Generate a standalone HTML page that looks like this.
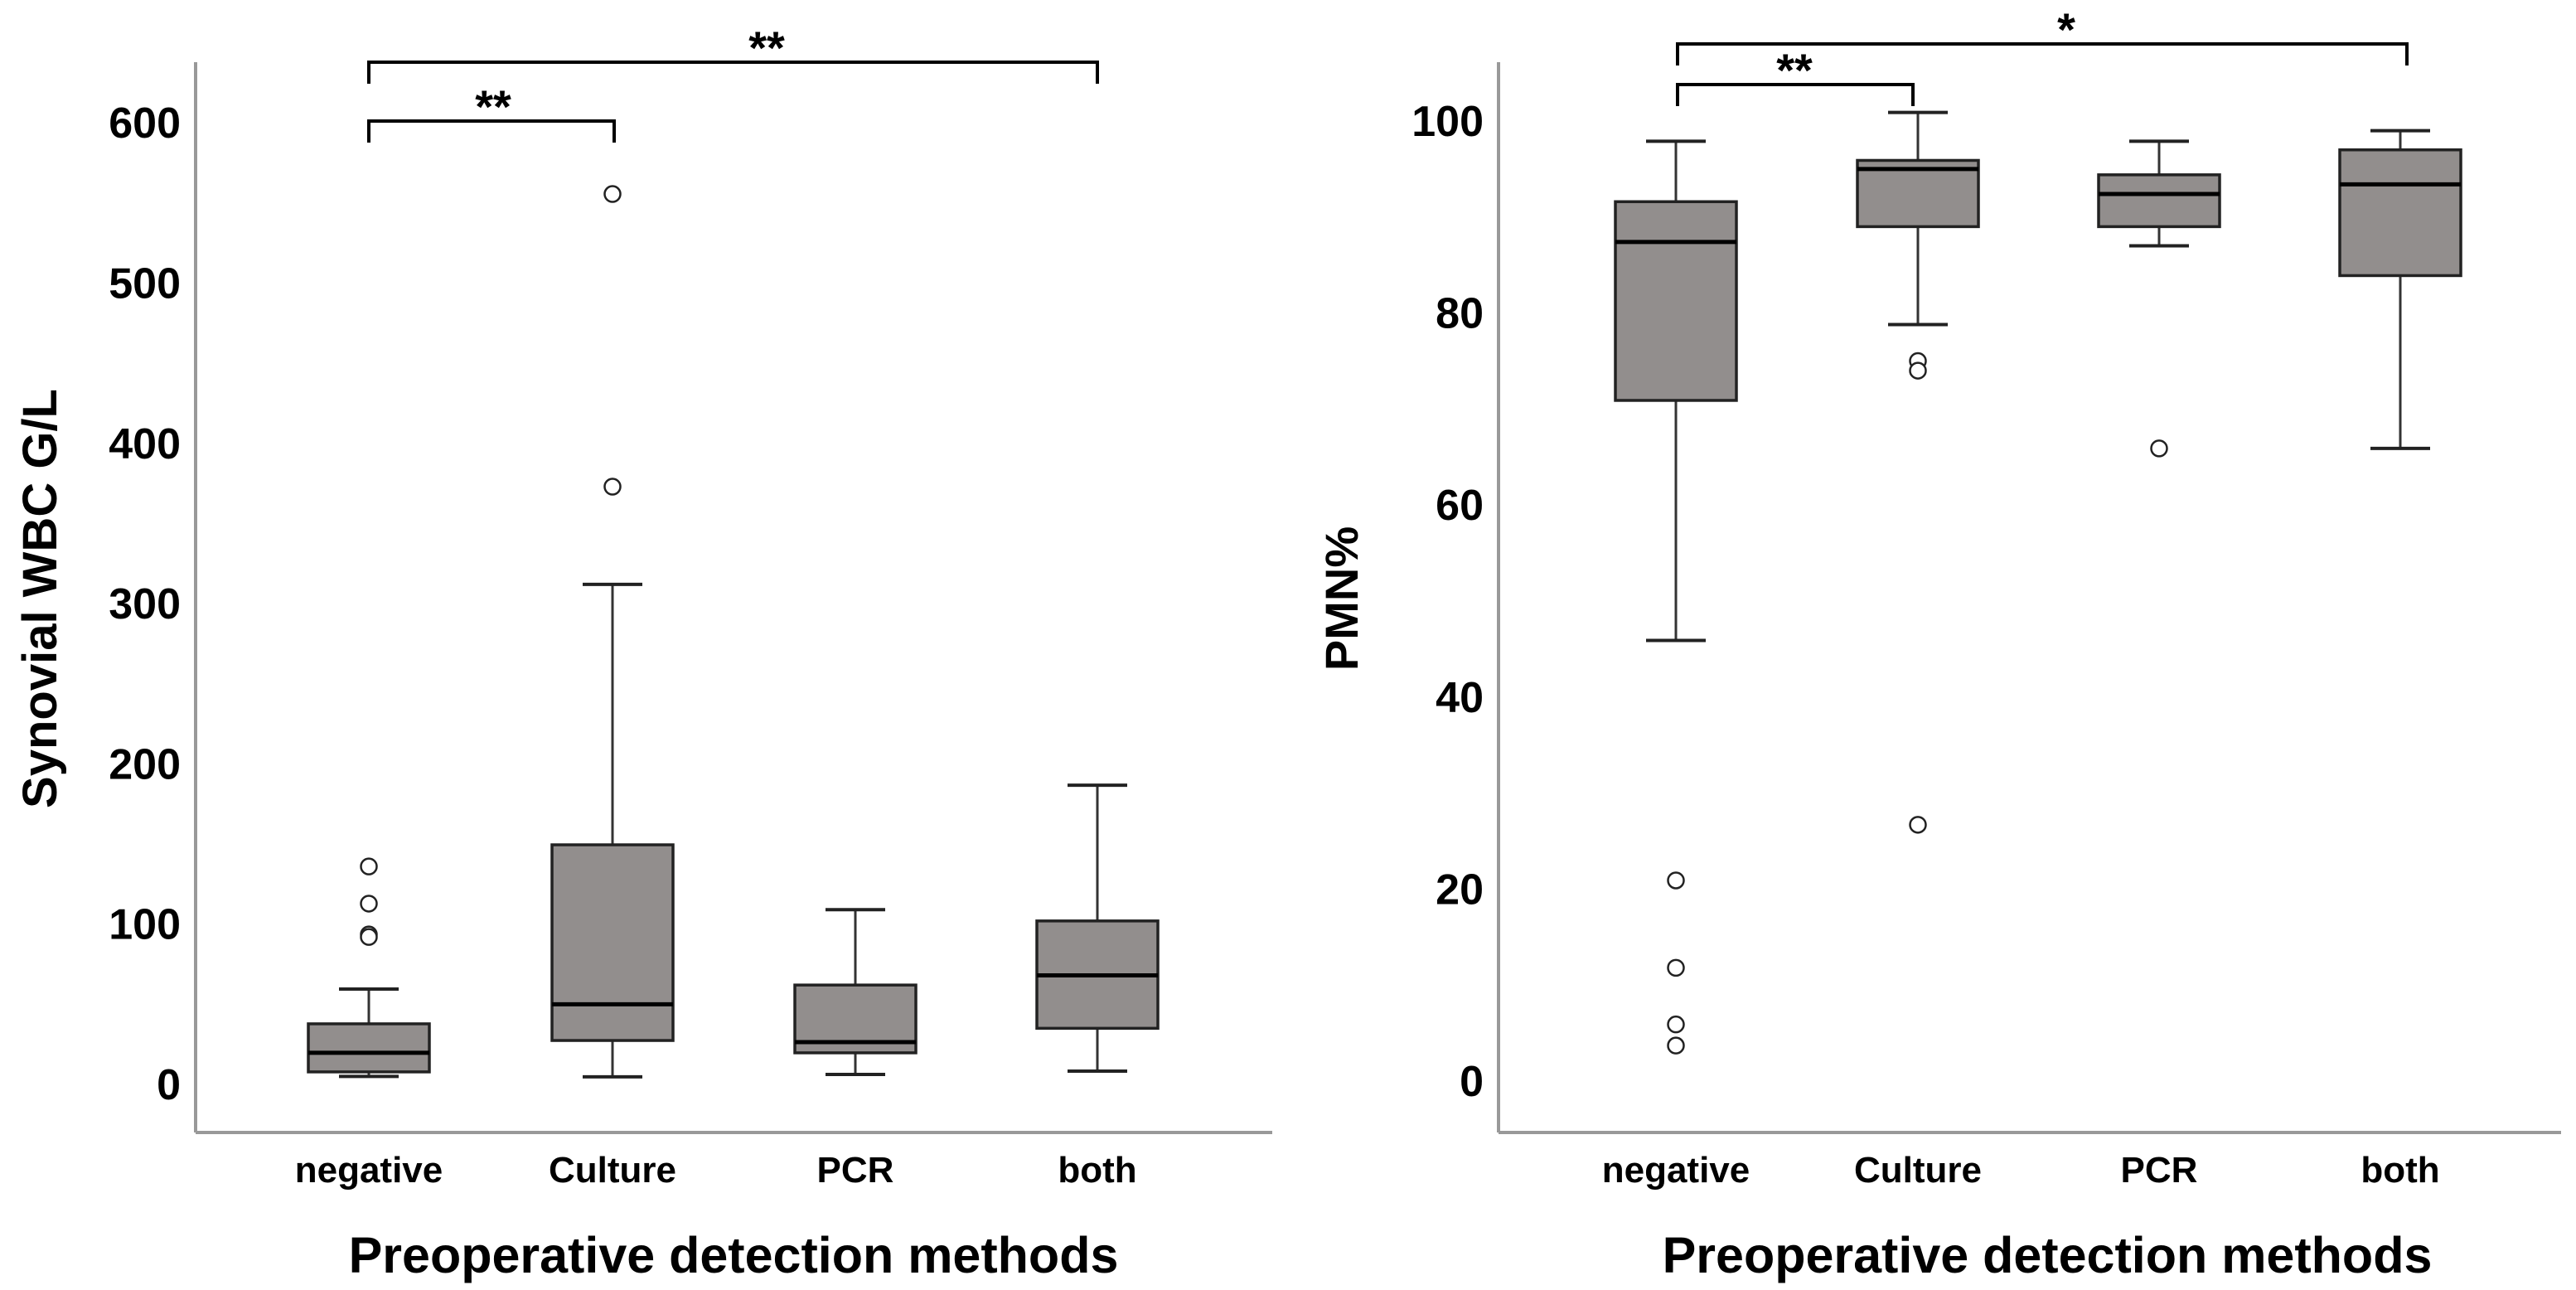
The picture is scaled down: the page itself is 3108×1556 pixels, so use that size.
<!DOCTYPE html>
<html><head><meta charset="utf-8"><style>
html,body{margin:0;padding:0;background:#fff;}
svg{display:block;}
text{font-family:"Liberation Sans",Arial,sans-serif;font-weight:bold;fill:#000;}
</style></head><body>
<svg id="fig" width="3108" height="1556" viewBox="0 0 3108 1556" xmlns="http://www.w3.org/2000/svg"></svg>
<script>
const categories = ["negative","Culture","PCR","both"];
// Left chart: Synovial WBC G/L  [whiskerLow, q1, median, q3, whiskerHigh]
const wbcLow = [5, 4.7, 6.2, 8.3];
const wbcQ1 = [7.8, 27.4, 19.7, 35];
const wbcMed = [19.7, 50, 26.4, 68];
const wbcQ3 = [37.8, 149.5, 62, 102];
const wbcHigh = [59.5, 312, 109, 186.7];
const wbcOutliers = [[136, 112.8, 93.6, 92], [373, 555.6], [], []];
const wbcTicks = [0, 100, 200, 300, 400, 500, 600];
// Right chart: PMN%
const pmnLow = [45.9, 78.8, 87, 65.9];
const pmnQ1 = [70.9, 89, 89, 83.9];
const pmnMed = [87.4, 95, 92.4, 93.4];
const pmnQ3 = [91.6, 95.9, 94.4, 97];
const pmnHigh = [97.9, 100.9, 97.9, 99];
const pmnOutliers = [[20.9, 11.8, 5.9, 3.7], [75, 74, 26.7], [65.9], []];
const pmnTicks = [0, 20, 40, 60, 80, 100];

const NS = "http://www.w3.org/2000/svg";
const svg = document.getElementById("fig");
function mk(tag, attrs, parent) {
  const e = document.createElementNS(NS, tag);
  for (const k in attrs) e.setAttribute(k, attrs[k]);
  (parent || svg).appendChild(e);
  return e;
}

function drawChart(cfg) {
  const g = mk("g", {});
  
  
  const y = v => cfg.y0 - (v - cfg.vmin) * cfg.pxPerUnit;
  const x = i => cfg.cx[i];
  const ya = mk("line", {x1: cfg.axX, y1: 75, x2: cfg.axX, y2: 1366, stroke: "#999", "stroke-width": 4}, g);
  
  
  const xa = mk("line", {x1: cfg.axX, y1: 1366, x2: cfg.axEnd, y2: 1366, stroke: "#999", "stroke-width": 4}, g);
  
  
  cfg.ticks.forEach(t => {
    const tx = mk("text", {x: cfg.axX - 18, y: y(t) + 18, "text-anchor": "end", "font-size": 52}, g);
    tx.textContent = t;
    
    
  });
  categories.forEach((c, i) => {
    const tx = mk("text", {x: x(i), y: 1426, "text-anchor": "middle", "font-size": 44}, g);
    tx.textContent = c;
    
    
  });
  const xt = mk("text", {x: cfg.xTitleX, y: 1535, "text-anchor": "middle", "font-size": 61}, g);
  xt.textContent = "Preoperative detection methods";
  
  
  const yt = mk("text", {x: 0, y: 0, "text-anchor": "middle", "font-size": cfg.yTitleSize, transform: `translate(${cfg.yTitleX},${cfg.yTitleY}) rotate(-90)`}, g);
  yt.textContent = cfg.yTitle;
  
  
  const bw = 146, cw = 72;
  categories.forEach((c, i) => {
    const bg = mk("g", {}, g);
    
    
    const cx = x(i);
    mk("line", {x1: cx, y1: y(cfg.high[i]), x2: cx, y2: y(cfg.q3[i]), stroke: "#333", "stroke-width": 3}, bg);
    mk("line", {x1: cx, y1: y(cfg.q1[i]), x2: cx, y2: y(cfg.low[i]), stroke: "#333", "stroke-width": 3}, bg);
    mk("line", {x1: cx - cw/2, y1: y(cfg.high[i]), x2: cx + cw/2, y2: y(cfg.high[i]), stroke: "#222", "stroke-width": 4}, bg);
    mk("line", {x1: cx - cw/2, y1: y(cfg.low[i]), x2: cx + cw/2, y2: y(cfg.low[i]), stroke: "#222", "stroke-width": 4}, bg);
    mk("rect", {x: cx - bw/2, y: y(cfg.q3[i]), width: bw, height: y(cfg.q1[i]) - y(cfg.q3[i]), fill: "#928e8d", stroke: "#222", "stroke-width": 3.5}, bg);
    mk("line", {x1: cx - bw/2, y1: y(cfg.med[i]), x2: cx + bw/2, y2: y(cfg.med[i]), stroke: "#000", "stroke-width": 5}, bg);
    cfg.out[i].forEach(v => {
      const o = mk("circle", {cx: cx, cy: y(v), r: 9.5, fill: "#fff", stroke: "#222", "stroke-width": 2.5}, bg);
      
      
    });
  });
  cfg.brackets.forEach(b => {
    const bg = mk("g", {}, g);
    
    
    const x1 = x(b.a) + b.dx, x2 = x(b.b) + b.dx2;
    mk("path", {d: `M${x1},${b.y + 26} L${x1},${b.y} L${x2},${b.y} L${x2},${b.y + 26}`, fill: "none", stroke: "#000", "stroke-width": 4}, bg);
    const s = mk("text", {x: b.sx, y: b.y + 2, "text-anchor": "middle", "font-size": 56, "font-weight": "normal"}, bg);
    s.textContent = b.label;
    
    
  });
}

drawChart({
  name: "wbc-boxplot", yTitle: "Synovial WBC G/L", yTitleSize: 58,
  cx: [445, 739, 1032, 1324], axX: 236, axEnd: 1535,
  y0: 1308, vmin: 0, pxPerUnit: 1.933, ticks: wbcTicks,
  low: wbcLow, q1: wbcQ1, med: wbcMed, q3: wbcQ3, high: wbcHigh, out: wbcOutliers,
  xTitleX: 885, yTitleX: 68, yTitleY: 722,
  brackets: [
    {a: 0, b: 3, dx: 0, dx2: 0, y: 75, sx: 925, label: "**"},
    {a: 0, b: 1, dx: 0, dx2: 2, y: 146, sx: 595, label: "**"}
  ]
});
drawChart({
  name: "pmn-boxplot", yTitle: "PMN%", yTitleSize: 56,
  cx: [2022, 2314, 2605, 2896], axX: 1808, axEnd: 3090,
  y0: 1304, vmin: 0, pxPerUnit: 11.58, ticks: pmnTicks,
  low: pmnLow, q1: pmnQ1, med: pmnMed, q3: pmnQ3, high: pmnHigh, out: pmnOutliers,
  xTitleX: 2470, yTitleX: 1638, yTitleY: 722,
  brackets: [
    {a: 0, b: 3, dx: 2, dx2: 8, y: 53, sx: 2493, label: "*"},
    {a: 0, b: 1, dx: 2, dx2: -6, y: 102, sx: 2165, label: "**"}
  ]
});
</script>
</body></html>
